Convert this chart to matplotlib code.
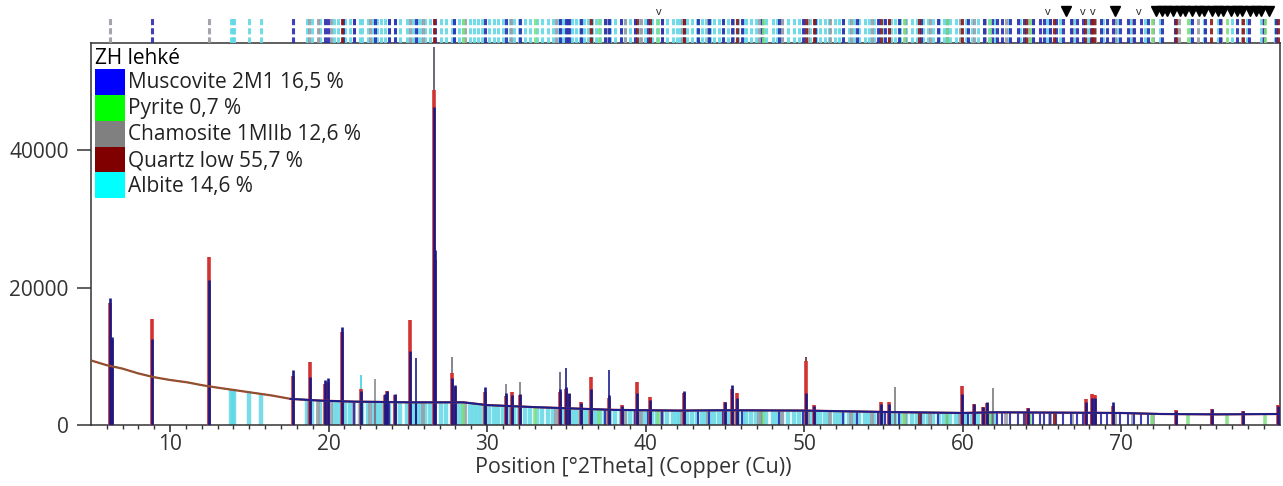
import matplotlib.pyplot as plt
from matplotlib.patches import Patch, Polygon

plt.rcParams['font.family'] = ['Open Sans', 'DejaVu Sans']

# background line of the pattern (2theta, counts)
bg_deg = [5.0, 6.0, 7.0, 8.0, 9.0, 10.0, 11.1, 12.0, 12.8, 14.3, 16.4, 17.6, 19.5, 21.6, 23.5, 25.0,
          28.5, 30.0, 33.0, 38.0, 42.0, 45.0, 50.0, 55.0, 60.0, 62.0, 66.0, 70.0, 72.5, 76.0, 80.0]
bg_counts = [9400, 8700, 8200, 7500, 6950, 6550, 6200, 5800, 5500, 5000, 4300, 3800, 3550, 3400, 3350, 3300,
             3300, 2900, 2600, 2200, 2100, 2150, 2100, 1900, 1750, 1850, 1800, 1750, 1600, 1550, 1600]

# peaks: position, observed (red) and calculated (blue) heights
peak_pos = [6.22, 6.34, 8.84, 12.48, 17.76, 18.8, 19.78, 19.96, 20.86, 22.04, 23.58, 23.7, 24.2, 25.12,
            26.64, 26.74, 27.8, 27.96, 29.84, 31.2, 31.54, 32.06, 34.62, 34.96, 35.16, 35.9, 36.54, 37.7,
            38.5, 39.47, 40.29, 42.42, 45.0, 45.42, 45.79, 50.14, 50.62, 54.87, 55.33, 59.96, 60.7, 61.3,
            61.56, 64.12, 67.78, 68.16, 68.34, 69.5, 73.47, 75.7, 77.7, 79.92]
peak_obs = [17800, 12400, 15400, 24500, 7200, 9100, 6000, 6300, 13600, 5200, 4400, 4900, 4400, 15300,
            48700, 24000, 7500, 5500, 4800, 4200, 4850, 4300, 4800, 5200, 4500, 3300, 7000, 4000,
            2900, 6300, 4100, 4600, 3300, 5300, 4600, 9300, 2900, 3400, 3300, 5700, 3000, 2600,
            3200, 2500, 3800, 4500, 4300, 2800, 2200, 2400, 2100, 2900]
peak_calc = [18500, 12800, 12500, 21100, 8000, 7000, 6500, 6800, 14300, 5000, 4500, 5000, 4500, 10700,
             46200, 25400, 6800, 5800, 5500, 4600, 4300, 4500, 5300, 5600, 4600, 3200, 5200, 4300,
             2800, 4600, 3600, 5000, 3400, 5850, 4000, 4700, 2800, 3000, 3100, 4500, 3050, 2650,
             3400, 2500, 3300, 3900, 4000, 3350, 2000, 2300, 2000, 2700]

# thin reference sticks that stand above the pattern
tall_pos = [22.04, 22.93, 25.5, 26.64, 27.8, 31.2, 32.06, 34.62, 34.96, 37.7, 50.14, 55.73, 61.9]
tall_top = [7300, 6700, 9800, 55000, 9900, 6000, 6300, 7700, 8300, 8000, 9950, 5500, 5400]
tall_col = ['#40d0e0', '#8a8a8a', '#1c1c8c', '#50505a', '#70707a', '#7a7a8a', '#7a7a7a', '#5a5a7a',
            '#1c1c8c', '#1c1c8c', '#5a2a2a', '#7a7a7a', '#7a7a7a']

# reference patterns (stick positions)
muscovite_pos = [8.84, 17.76, 19.78, 19.96, 20.9, 21.6, 22.92, 23.82, 24.22, 25.5, 26.72, 27.88, 29.84,
                 31.22, 32.06, 34.62, 34.96, 35.16, 35.94, 37.42, 37.72, 38.46, 39.36, 40.14, 41.06, 42.42,
                 43.3, 44.02, 44.86, 45.42, 46.08, 47.36, 48.44, 49.92, 50.66, 52.46, 53.32, 54.64, 55.12,
                 56.0, 57.36, 58.46, 59.04, 60.36, 61.34, 61.86, 62.14, 62.5, 63.0, 63.52, 63.9, 64.46,
                 64.9, 65.14, 65.5, 65.92, 66.3, 66.84, 67.2, 67.62, 68.1, 68.74, 69.1, 69.48, 69.9, 70.42,
                 70.8, 71.28, 71.7, 72.56, 73.42, 74.48, 75.32, 76.24, 77.3, 78.06, 79.02, 79.78]
pyrite_pos = [28.51, 33.04, 37.08, 40.78, 47.42, 56.28, 59.02, 61.7, 64.28, 71.93, 74.22, 76.66, 79.08]
chamosite_pos = [6.22, 12.46, 18.74, 19.32, 20.12, 21.62, 22.64, 25.12, 25.94, 28.6, 31.52, 34.32, 35.08,
                 36.46, 37.62, 38.72, 39.68, 41.02, 42.28, 43.94, 45.52, 47.18, 48.62, 50.22, 51.62, 52.94,
                 54.28, 55.36, 56.34, 57.92, 59.82, 60.72, 61.42, 62.72, 64.18, 65.54, 66.88, 68.36, 69.62,
                 70.72, 72.04, 73.62, 74.84, 76.28, 77.62, 78.96]
quartz_pos = [20.86, 26.64, 36.54, 39.47, 40.29, 42.45, 45.79, 50.14, 50.62, 54.87, 55.33, 57.23, 59.96,
              63.99, 65.79, 67.74, 68.14, 68.31, 73.47, 75.66, 77.68, 79.88]
albite_pos = [13.82, 13.96, 14.06, 14.96, 15.76, 18.62, 18.98, 19.46, 20.34, 20.58, 21.02, 21.34, 21.98,
              22.08, 22.46, 22.78, 23.06, 23.32, 23.58, 23.84, 24.22, 24.5, 24.92, 25.32, 25.62, 25.86,
              26.1, 26.38, 27.12, 27.42, 27.76, 27.94, 28.22, 28.48, 28.9, 29.16, 29.42, 29.7, 30.12,
              30.42, 30.7, 31.02, 31.44, 31.72, 32.02, 32.36, 32.7, 33.12, 33.46, 33.84, 34.16, 34.52,
              34.78, 35.02, 35.34, 35.62, 35.86, 36.12, 36.38, 36.62, 36.9, 37.14, 37.44, 37.74, 38.06,
              38.42, 38.72, 39.04, 39.3, 39.64, 39.96, 40.42, 40.7, 41.02, 41.36, 41.72, 41.96, 42.18,
              42.62, 42.92, 43.24, 43.56, 43.82, 44.08, 44.34, 44.62, 44.9, 45.18, 45.52, 45.84, 46.12,
              46.36, 46.62, 46.96, 47.28, 47.62, 48.02, 48.28, 48.62, 48.96, 49.38, 49.66, 50.02, 50.38,
              50.74, 51.02, 51.32, 51.6, 51.94, 52.2, 52.48, 52.82, 53.12, 53.44, 53.82, 54.12, 54.42,
              54.74, 55.02, 55.46, 55.72, 56.06, 56.44, 56.8, 57.14, 57.48, 57.82, 58.14, 58.52, 58.84,
              59.22, 59.56, 59.92, 60.24, 60.58, 60.96, 61.32, 61.64, 62.04, 62.84, 63.62, 64.42, 65.32,
              66.12, 67.02, 67.92, 68.84, 69.72, 70.62, 71.52, 72.48, 73.38, 74.32, 75.22, 76.08, 77.02,
              77.92, 78.84, 79.68]

phase_names = ['Muscovite 2M1 16,5 %', 'Pyrite 0,7 %', 'Chamosite 1MIIb 12,6 %', 'Quartz low 55,7 %', 'Albite 14,6 %']
phase_colors = ['#0000ff', '#00ff00', '#808080', '#800000', '#00ffff']
stick_colors = ['#2a2ab0', '#7ee07e', '#9a9aa4', '#8b1a1a', '#62d8e6']
phase_widths = [1.5, 2.6, 2.8, 2.2, 3.2]
phase_lists = [muscovite_pos, pyrite_pos, chamosite_pos, quartz_pos, albite_pos]
band_limit = [72.2, 80, 72.2, 80, 62.5]  # where sticks in the main band stop

# top markers
thin_v = [40.8, 65.4, 67.6, 68.2, 71.1]
bold_v = [66.5, 69.6, 72.2, 72.6, 72.9, 73.3, 73.7, 74.0, 74.5, 74.9, 75.2, 75.7, 76.1, 76.4,
          76.9, 77.3, 77.6, 78.1, 78.5, 78.8, 79.3]

fig = plt.figure(figsize=(12.83, 4.86), dpi=100)
L, W = 0.0708, 0.9266
ax = fig.add_axes([L, 0.1255, W, 0.785])
top = fig.add_axes([L, 0.9105, W, 0.0895])

# clip region under the background line
clip = Polygon(list(zip(bg_deg, bg_counts)) + [(80, 0), (5, 0)], closed=True,
               transform=ax.transData, fill=False, lw=0)
ax.add_patch(clip)

order = [4, 2, 0, 1, 3]  # albite first, quartz on top
for i in order:
    pos = [p for p in phase_lists[i] if p <= band_limit[i]]
    a = 0.9 if i in (0, 3) else 0.85
    sticks = ax.vlines(pos, 0, 60000, colors=stick_colors[i], lw=phase_widths[i], alpha=a, zorder=1)
    sticks.set_clip_path(clip)

ax.vlines(tall_pos, 0, tall_top, colors=tall_col, lw=1.2, zorder=2)
ax.vlines(peak_pos, 0, peak_obs, colors='#d23232', lw=2.6, zorder=3)
ax.vlines(peak_pos, 0, peak_calc, colors='#1a1a86', lw=1.9, zorder=4)

ax.plot(bg_deg, bg_counts, color='#b04030', lw=1.6, zorder=5)
ax.plot(bg_deg, bg_counts, color='#3c7a30', lw=1.0, ls=':', zorder=6)
ax.plot(bg_deg[11:], bg_counts[11:], color='#1c1c8c', lw=1.4, zorder=7)

ax.set_xlim(5, 80)
ax.set_ylim(0, 55500)
ax.set_yticks([0, 20000, 40000])
ax.set_xticks(range(10, 80, 10))
ax.set_xticks(range(6, 80), minor=True)
ax.tick_params(axis='y', length=10, width=1.1, pad=6, labelsize=15, colors='#333333')
ax.tick_params(axis='x', which='major', length=5, width=1.2, pad=1.5, labelsize=15, colors='#333333')
ax.tick_params(axis='x', which='minor', length=3, width=1.0, colors='#333333')
for s in ax.spines.values():
    s.set_color('#333333')
    s.set_linewidth(1.1)
fig.text(633 / 1283, 1 - 468 / 486, 'Position [°2Theta] (Copper (Cu))', fontsize=15.5,
         color='#333333', ha='center', va='center')

handles = [Patch(facecolor=c, edgecolor='none') for c in phase_colors]
leg = ax.legend(handles, phase_names, title='ZH lehké', loc='upper left', bbox_to_anchor=(0, 1),
                frameon=False, fontsize=15, title_fontsize=15, handlelength=1.44, handleheight=1.54,
                handletextpad=0.12, labelspacing=0.0, borderpad=0.2, borderaxespad=0.0,
                alignment='left')
for t in leg.get_texts():
    t.set_color('#222222')

# top strip with reference sticks and peak markers
top.set_xlim(5, 80)
top.set_ylim(0, 1)
top.axis('off')
for i in order:
    top.vlines(phase_lists[i], 0, 0.61, colors=stick_colors[i], lw=2.2, ls=(0, (2.0, 1.0)), alpha=0.9)
for p in thin_v:
    top.text(p, 0.72, 'v', ha='center', va='center', fontsize=8, color='#222222')
top.plot(bold_v, [0.74] * len(bold_v), 'v', color='black', ms=7, ls='none')

fig.savefig('out.png', dpi=100)
